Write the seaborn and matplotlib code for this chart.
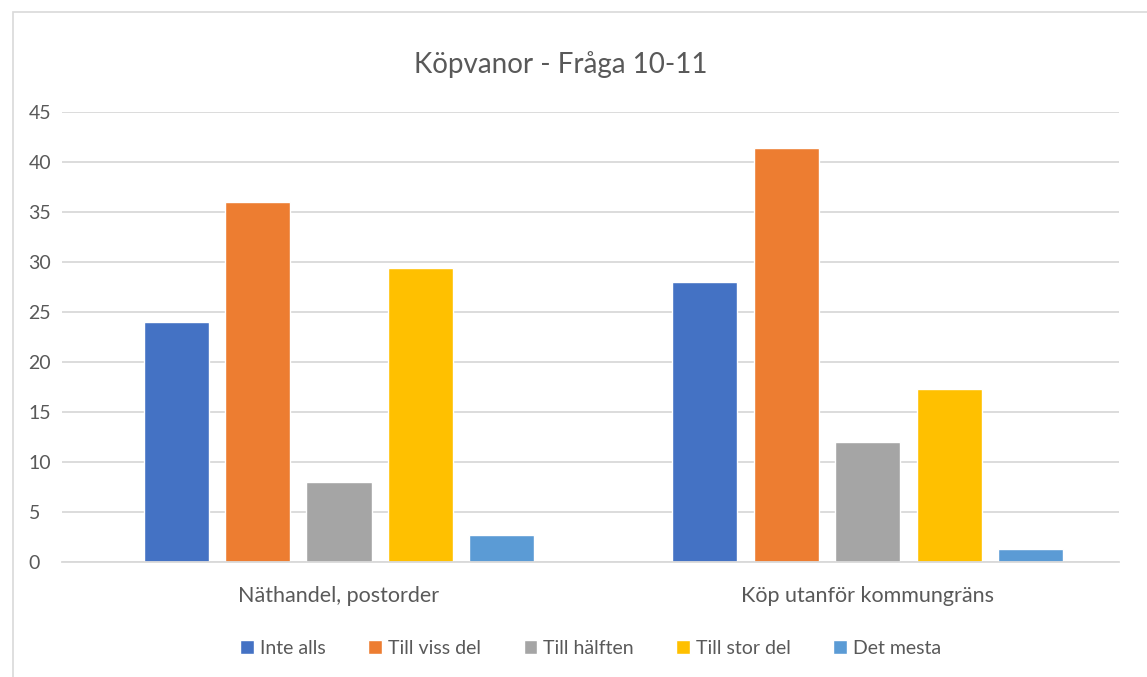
import numpy as np
import pandas as pd
import matplotlib
matplotlib.use("Agg")
import matplotlib.pyplot as plt
import seaborn as sns
from matplotlib.patches import Rectangle

# Data
categories = ["Näthandel, postorder", "Köp utanför kommungräns"]
answers = ["Inte alls", "Till viss del", "Till hälften", "Till stor del", "Det mesta"]
inte_alls = [24.0, 28.0]
till_viss_del = [36.0, 41.4]
till_halften = [8.0, 12.0]
till_stor_del = [29.4, 17.3]
det_mesta = [2.7, 1.3]
colors = ["#4472C4", "#ED7D31", "#A5A5A5", "#FFC000", "#5B9BD5"]

series = [inte_alls, till_viss_del, till_halften, till_stor_del, det_mesta]
rows = []
for ans, vals in zip(answers, series):
    for cat, v in zip(categories, vals):
        rows.append({"kategori": cat, "svar": ans, "andel": v})
df = pd.DataFrame(rows)

sns.set_theme(style="white")
plt.rcParams["font.family"] = ["Lato", "DejaVu Sans"]
text_col = "#595959"

fig = plt.figure(figsize=(11.47, 6.77), dpi=100)
ax = fig.add_axes([0.054, 0.170, 0.922, 0.665])

sns.barplot(data=df, x="kategori", y="andel", hue="svar", order=categories,
            hue_order=answers, palette=colors, width=0.77, gap=0.2,
            saturation=1, ax=ax, legend=True)

ax.set_ylim(0, 45)
ax.set_yticks(np.arange(0, 46, 5))
ax.set_xlim(-0.524, 1.476)
ax.yaxis.grid(True, color="#D9D9D9", linewidth=1.3)
ax.set_axisbelow(True)
for s in ["top", "right", "left"]:
    ax.spines[s].set_visible(False)
ax.spines["bottom"].set_color("#D9D9D9")
ax.spines["bottom"].set_linewidth(1.3)
ax.tick_params(axis="both", length=0, labelsize=14, colors=text_col)
ax.tick_params(axis="y", pad=24)
for lbl in ax.get_yticklabels():
    lbl.set_horizontalalignment("left")
ax.tick_params(axis="x", pad=17, labelsize=15.5)
for lbl in ax.get_xticklabels():
    lbl.set_x(lbl.get_position()[0])
ax.set_xlabel("")
ax.set_ylabel("")

fig.text(0.489, 0.905, "Köpvanor - Fråga 10-11", ha="center", va="center",
         fontsize=20, color=text_col)

handles, labels = ax.get_legend_handles_labels()
ax.get_legend().remove()
fig.legend(handles, labels, loc="center", bbox_to_anchor=(0.515, 0.042),
           ncol=5, frameon=False, fontsize=14, handlelength=0.7,
           handleheight=0.7, handletextpad=0.3, columnspacing=2.2,
           labelcolor=text_col)

# chart frame
fig.patches.append(Rectangle((0.011, -0.05), 1.2, 1.032, transform=fig.transFigure,
                             fill=False, edgecolor="#D9D9D9", linewidth=1.2))

fig.savefig("out.png", dpi=100)
